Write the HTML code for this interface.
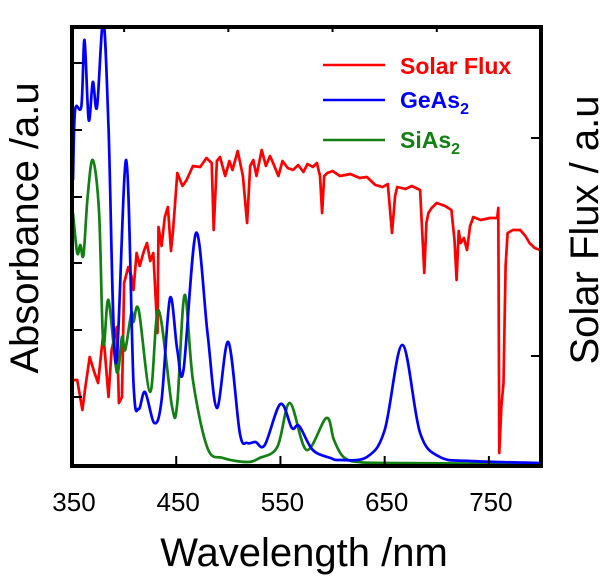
<!DOCTYPE html>
<html><head><meta charset="utf-8"><style>
html,body{margin:0;padding:0;background:#fff;width:605px;height:581px;overflow:hidden}
svg text{font-family:"Liberation Sans",sans-serif}
</style></head><body>
<svg id="chart" width="605" height="581" viewBox="0 0 605 581" xmlns="http://www.w3.org/2000/svg">
<defs><clipPath id="pc"><rect x="72" y="27" width="469" height="439"/></clipPath></defs>
<g id="series" clip-path="url(#pc)"></g>
<rect x="72" y="27" width="469" height="439" fill="none" stroke="#000" stroke-width="4"/>
<g id="ticks" stroke="#000" stroke-width="2"></g>
<g id="labels" font-size="26" text-anchor="middle"></g>
<text x="304" y="566" font-size="40" text-anchor="middle">Wavelength /nm</text>
<text transform="translate(38,228) rotate(-90)" font-size="40" text-anchor="middle">Absorbance /a.u</text>
<text transform="translate(598,230) rotate(-90)" font-size="40" text-anchor="middle">Solar Flux / a.u</text>
<g font-size="23" font-weight="bold">
<line x1="323" y1="65" x2="385" y2="65" stroke="#ff0000" stroke-width="2.5"/>
<text x="400" y="74" fill="#ff0000">Solar Flux</text>
<line x1="323" y1="100" x2="385" y2="100" stroke="#0000ff" stroke-width="2.5"/>
<text x="400" y="108" fill="#0000ff">GeAs<tspan font-size="16" dy="6">2</tspan></text>
<line x1="323" y1="140" x2="385" y2="140" stroke="#138013" stroke-width="2.5"/>
<text x="400" y="148" fill="#138013">SiAs<tspan font-size="16" dy="6">2</tspan></text>
</g>
</svg>
<script>
const xTicks=[350,450,550,650,750];
const xMinor=[400,500,600,700];
const blueX=[351,353,359,362,366,370,374,380,385,392,402,409,414,420,429,436,444,451,457,469,480,489,500,511,518,526,535,550,561,568,581,598,607,633,650,667,684,703,732,800];
const blueY=[286,356,360,426,346,384,359,445,339,103,306,83,57,74,43,66,168,116,96,233,133,58,124,33,23,24,21,62,38,40,16,8,6,9,36,121,33,9,5,3];
const greenX=[351,355,358,361,365,370,376,380,385,393,398,401,407,409,414,425,433,446,451,458,466,480,495,518,530,547,559,575,594,601,608,615,625,650,800];
const greenY=[253,213,221,211,269,306,253,123,166,94,129,116,153,144,156,74,156,59,63,171,86,18,8,4,8,19,63,16,48,27,12,6,4,3,2];
const redX=[351,355,360,363,367,371,375,380,385,388,393,395,398,400,404,407,409,412,415,419,422,425,428,432,433,436,439,442,445,447,451,456,460,466,473,479,484,486,489,492,497,501,504,509,514,518,521,524,527,532,536,540,543,548,552,557,562,567,572,576,581,585,588,590,592,595,600,607,617,626,633,641,648,653,657,660,662,670,676,684,688,690,692,695,700,708,714,717,719,721,723,726,729,732,735,742,751,758,759,760,762,764,766,768,773,780,785,789,794,799,800];
const redY=[86,86,56,80,109,95,83,133,69,116,139,63,69,183,199,190,176,213,200,215,223,205,213,133,239,220,249,259,215,236,293,280,286,300,299,308,303,236,305,309,290,305,296,315,290,243,300,306,290,316,300,310,303,290,305,298,296,301,294,302,299,303,290,253,290,293,295,290,292,288,289,281,279,282,233,270,279,277,280,276,193,243,253,258,263,260,256,226,186,235,223,228,216,240,249,246,248,248,258,13,60,83,200,233,236,236,230,223,218,216,218];
const X0=72,X1=541,Y0=466,Y1=27;
function sx(v){return X0+(v-350)/450*(X1-X0);}
function sy(v){return Y0-v/439*(Y0-Y1);}
const NS='http://www.w3.org/2000/svg';
const g=document.getElementById('series');
function smoothPath(pts){
  let d='M'+pts[0][0].toFixed(1)+','+pts[0][1].toFixed(1);
  for(let i=0;i<pts.length-1;i++){
    const p0=pts[i-1]||pts[i],p1=pts[i],p2=pts[i+1],p3=pts[i+2]||p2;
    const c1=[p1[0]+(p2[0]-p0[0])/6,p1[1]+(p2[1]-p0[1])/6];
    const c2=[p2[0]-(p3[0]-p1[0])/6,p2[1]-(p3[1]-p1[1])/6];
    d+=' C'+c1.map(v=>v.toFixed(1)).join(',')+' '+c2.map(v=>v.toFixed(1)).join(',')+' '+p2.map(v=>v.toFixed(1)).join(',');
  }
  return d;
}
function line(xs,ys,color,name,smooth){
  const pts=xs.map((x,i)=>[sx(x),sy(ys[i])]);
  const p=document.createElementNS(NS,'path');
  p.setAttribute('d',smooth?smoothPath(pts):'M'+pts.map(q=>q[0].toFixed(1)+','+q[1].toFixed(1)).join(' L'));
  p.setAttribute('fill','none');p.setAttribute('stroke',color);p.setAttribute('stroke-width','2.7');p.setAttribute('stroke-linejoin','round');
  
  
  g.appendChild(p);
}
line(redX,redY,'#ff0000','solar-flux-line',false);
line(greenX,greenY,'#138013','sias2-line',true);
line(blueX,blueY,'#0000ff','geas2-line',true);
const t=document.getElementById('ticks');
function tk(x1,y1,x2,y2){const l=document.createElementNS(NS,'line');l.setAttribute('x1',x1);l.setAttribute('y1',y1);l.setAttribute('x2',x2);l.setAttribute('y2',y2);


t.appendChild(l);}
xTicks.slice(1).forEach(v=>{tk(sx(v),Y0,sx(v),Y0-10);});
xMinor.forEach(v=>{tk(sx(v),Y1,sx(v),Y1+5);});
[63,130,197,263,330,397].forEach(y=>tk(X0,y,X0+10,y));
[138,356].forEach(y=>tk(X1,y,X1-10,y));
const lb=document.getElementById('labels');
xTicks.forEach(v=>{const e=document.createElementNS(NS,'text');e.setAttribute('x',sx(v)+2);e.setAttribute('y',511);e.textContent=v;


lb.appendChild(e);});
</script>
</body></html>
